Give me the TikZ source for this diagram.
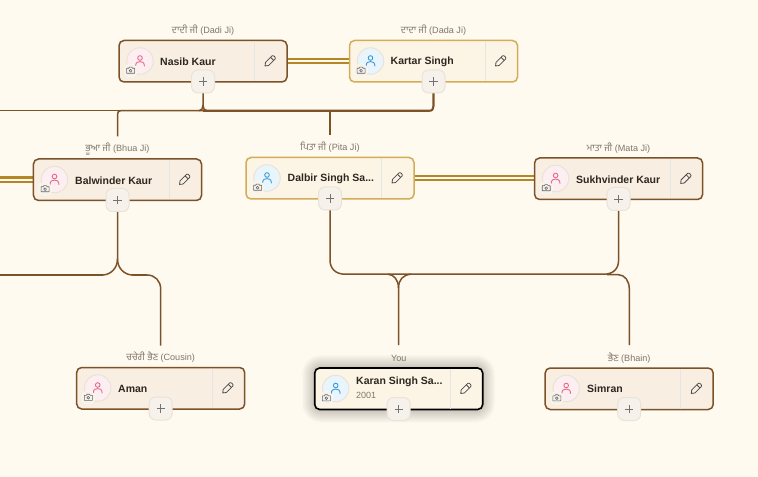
\documentclass[tikz,border=0pt]{standalone}
\usepackage{fontspec}
\setmainfont{Liberation Sans}
\newfontfamily\gur[Script=Gurmukhi]{Hind Jalandhar}
\pgfdeclarelayer{wires}\pgfdeclarelayer{under}
\pgfsetlayers{under,wires,main}
\definecolor{pagebg}{HTML}{FEFAF0}
\definecolor{brownline}{HTML}{7C5229}
\definecolor{goldline}{HTML}{B58526}
\definecolor{goldedge}{HTML}{D2AC58}
\definecolor{femfill}{HTML}{F8EEE1}
\definecolor{malfill}{HTML}{FCF5E6}
\definecolor{pinkfill}{HTML}{FCEEF1}
\definecolor{bluefill}{HTML}{E9F5FD}
\definecolor{pinkink}{HTML}{E76A8E}
\definecolor{blueink}{HTML}{3E9AD6}
\definecolor{inkdark}{HTML}{2E2720}
\definecolor{labelink}{HTML}{80766A}
\definecolor{softedge}{HTML}{E9E3D9}
\definecolor{btnfill}{HTML}{F6F2EB}
\tikzset{
  x=1bp,y=-1bp,
  cardbox/.style={rounded corners=5bp,line width=1.5bp,minimum width=168bp,minimum height=41.5bp,inner sep=0pt,outer sep=0pt},
  femcard/.style={cardbox,draw=brownline,fill=femfill},
  malcard/.style={cardbox,draw=goldedge,fill=malfill},
  youcard/.style={cardbox,draw=black,fill=malfill,line width=1.6bp},
  namelabel/.style={anchor=west,inner sep=0pt,font=\fontsize{10.5bp}{12bp}\selectfont\bfseries,text=inkdark},
  yearlabel/.style={anchor=west,inner sep=0pt,font=\fontsize{9bp}{11bp}\selectfont,text=labelink},
  toplabel/.style={inner sep=1bp,font=\fontsize{9.1bp}{11bp}\selectfont,text=labelink},
  plusbtn/.style={draw=softedge,line width=1bp,fill=btnfill,rounded corners=6.5bp,minimum size=23bp,inner sep=0pt,outer sep=0pt},
  camerabtn/.style={circle,fill=btnfill,draw=pagebg,line width=.5bp,minimum size=13bp,inner sep=0pt},
  wire/.style={draw=brownline,line width=1.5bp},
  trunk/.style={draw=brownline,line width=2.1bp},
  marriage/.style={draw=goldline,line width=2.1bp},
}
\newcommand{\gtext}[1]{{\fontsize{9.6bp}{11bp}\gur #1}}
% #1 name, #2 left x, #3 top y, #4 card style, #5 pink/blue, #6 label
\newcommand{\personcard}[6]{%
  \node[#4] (#1) at (#2+84,#3+20.75) {};
  \draw[black!10,line width=.6bp] (#2+135.5,#3+1) -- (#2+135.5,#3+40.5);
  \node[toplabel] (#1lab) at (#2+84,#3-10) {#6};
  \node[circle,minimum size=26.5bp,inner sep=0pt,draw=softedge,line width=1bp,fill=#5fill] (#1av) at (#2+21,#3+20.5) {};
  \begin{scope}[shift={(#1av.center)},draw=#5ink,line width=.9bp,line cap=round]
    \draw (0,-3) circle (2.3bp);
    \draw (-4.4,5) .. controls (-4.4,1.2) and (-2,.6) .. (0,.6) .. controls (2,.6) and (4.4,1.2) .. (4.4,5);
  \end{scope}
  \node[camerabtn] (#1cam) at (#2+11.6,#3+30) {};
  \begin{scope}[shift={(#1cam.center)},draw=black!60,line width=.6bp,line join=round]
    \draw (-4,-2.2) -- (-2,-2.2) -- (-1.2,-3.3) -- (1.2,-3.3) -- (2,-2.2) -- (4,-2.2) -- (4,2.8) -- (-4,2.8) -- cycle;
    \draw (0,.2) circle (1.4bp);
  \end{scope}
  \coordinate (#1pen) at (#2+151,#3+20.5);
  \begin{scope}[shift={(#1pen)},rotate=45,draw=black!70,line width=.8bp,line join=round]
    \draw (-7,0) -- (-4.2,-2.2) -- (5,-2.2) .. controls (6.8,-2.2) and (6.8,2.2) .. (5,2.2) -- (-4.2,2.2) -- cycle;
    \draw (3,-2.2) -- (3,2.2);
  \end{scope}
  \node[plusbtn] (#1add) at (#2+84,#3+41) {};
  \draw[black!55,line width=.7bp] ([xshift=-4.2bp]#1add.center) -- ([xshift=4.2bp]#1add.center)
    ([yshift=-4.2bp]#1add.center) -- ([yshift=4.2bp]#1add.center);
}
\begin{document}
\begin{tikzpicture}
\useasboundingbox (0,0) rectangle (758,477);
\begin{pgfonlayer}{under}
\fill[pagebg] (0,0) rectangle (758,477);
% glow around the current person
\foreach \g in {14,13,12,11,10,9,8,7,6,5,4,3,2,1}{
  \fill[black,opacity=.016,rounded corners=\g bp+5bp] (316-\g,369-\g) rectangle (481+\g,408.5+\g);
}
\end{pgfonlayer}
\personcard{nasib}{119}{40.5}{femcard}{pink}{\gtext{ਦਾਦੀ ਜੀ} (Dadi Ji)}
\node[namelabel] (nasibname) at (160,61.5) {Nasib Kaur};
\personcard{kartar}{349.5}{40.5}{malcard}{blue}{\gtext{ਦਾਦਾ ਜੀ} (Dada Ji)}
\node[namelabel] (kartarname) at (390.5,61.5) {Kartar Singh};
\personcard{balw}{33.5}{159}{femcard}{pink}{\gtext{ਭੂਆ ਜੀ} (Bhua Ji)}
\node[namelabel] (balwname) at (75,180.5) {Balwinder Kaur};
\personcard{dalbir}{246}{157.5}{malcard}{blue}{\gtext{ਪਿਤਾ ਜੀ} (Pita Ji)}
\node[namelabel] (dalbirname) at (287.5,178.5) {Dalbir Singh Sa...};
\personcard{sukh}{534.6}{158}{femcard}{pink}{\gtext{ਮਾਤਾ ਜੀ} (Mata Ji)}
\node[namelabel] (sukhname) at (576,179.5) {Sukhvinder Kaur};
\personcard{aman}{76.7}{367.5}{femcard}{pink}{\gtext{ਚਚੇਰੀ ਭੈਣ} (Cousin)}
\node[namelabel] (amanname) at (118,388.5) {Aman};
\personcard{karan}{314.7}{368}{youcard}{blue}{You}
\node[namelabel] (karanname) at (356,382) {Karan Singh Sa...};
\node[yearlabel] (karanyear) at (356,395.5) {2001};
\personcard{simran}{545.2}{368}{femcard}{pink}{\gtext{ਭੈਣ} (Bhain)}
\node[namelabel] (simranname) at (587,388.5) {Simran};
\coordinate (edgeA) at (0,177.5);
\coordinate (edgeB) at (0,181.8);
\coordinate (edgeC) at (0,110.8);
\coordinate (edgeD) at (0,275);
\coordinate (endBalw) at (117.5,136.5);
\coordinate (endDalbir) at (330,135);
\coordinate (endAman) at (160.7,345.5);
\coordinate (endKaran) at (398.5,345);
\coordinate (endSimran) at (629.3,345);
\begin{pgfonlayer}{wires}
  % couples
  \foreach \o in {-2.2,2.2}{
    \draw[marriage] ([yshift=\o bp]nasib.east) -- ([yshift=\o bp]nasib.east -| kartar.west);
    \draw[marriage] ([yshift=\o bp]dalbir.east) -- ([yshift=\o bp]dalbir.east -| sukh.west);
  }
  \draw[marriage] (edgeA) -- (edgeA -| balw.west);
  \draw[marriage] (edgeB) -- (edgeB -| balw.west);
  % grandparents to children
  \draw[wire] (nasibadd.south) -- (203,105) .. controls (203,108) and (204,110.6) .. (207,110.8);
  \draw[wire] (203,105) .. controls (203,108) and (202,110.6) .. (199,110.8);
  \draw[trunk] (203,110.8) -- (429,110.8) .. controls (432.3,110.8) and (433.5,109) .. (433.5,106) -- (kartaradd.south);
  \draw[wire,line width=1.2bp] (edgeC) -- (121,110.8);
  \draw[wire] (endBalw) -- (117.5,114.5) .. controls (117.5,112) and (118.6,110.6) .. (121,110.6) -- (203,110.6);
  \draw[wire] (endDalbir) -- (330,110.8);
  % aunt's branch
  \draw[wire] (balwadd.south) -- (117.5,259) .. controls (117.5,268) and (111,274.5) .. (103,275) -- (edgeD);
  \draw[wire] (117.5,259) .. controls (117.5,268) and (124,274.5) .. (132,275) -- (147,275)
     .. controls (155,275) and (160.7,281) .. (160.7,289) -- (endAman);
  % parents' branch
  \draw[wire] (dalbiradd.south) -- (330,260) .. controls (330,269) and (336,274.2) .. (345,274.2) -- (604,274.2)
     .. controls (613,274.2) and (618.6,269) .. (618.6,260) -- (sukhadd.south);
  \draw[wire] (388,274.2) .. controls (394,274.6) and (398.5,280) .. (398.5,288) -- (endKaran);
  \draw[wire] (411,274.2) .. controls (403,274.6) and (398.5,280) .. (398.5,288);
  \draw[wire] (607,274.6) -- (618,274.6) .. controls (625,274.8) and (629.3,281) .. (629.3,289) -- (endSimran);
\end{pgfonlayer}
\end{tikzpicture}
\end{document}
